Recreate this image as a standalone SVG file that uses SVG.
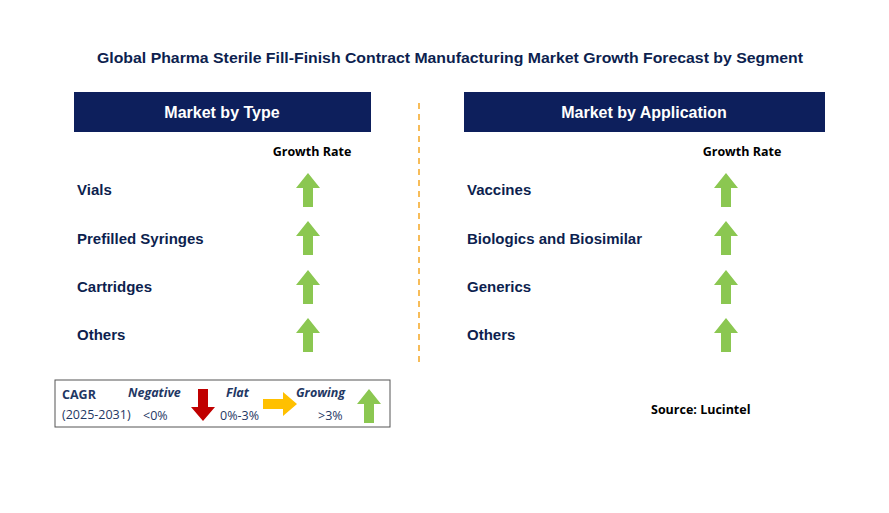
<svg xmlns="http://www.w3.org/2000/svg" width="889" height="513" viewBox="0 0 889 513">
<defs>
<style>
.t{font-family:"Liberation Sans",Arial,sans-serif;font-weight:bold;fill:#0d1f4f}
.h{font-family:"Liberation Sans",Arial,sans-serif;font-weight:bold;fill:#fff;font-size:16px}
.g{font-family:"Open Sans","Liberation Sans",sans-serif;font-weight:bold;font-size:12.5px;fill:#000}
.c{font-family:"Open Sans","Liberation Sans",sans-serif;font-size:12.5px;fill:#1f3864}
.up{fill:#8bc751}
</style>
<path id="ua" d="M0,-17 L12,-2 L5,-2 L5,17 L-5,17 L-5,-2 L-12,-2 Z"/>
</defs>
<rect width="889" height="513" fill="#fff"/>
<text class="t" x="450" y="63" font-size="15" text-anchor="middle" textLength="706" lengthAdjust="spacingAndGlyphs">Global Pharma Sterile Fill-Finish Contract Manufacturing Market Growth Forecast by Segment</text>
<g id="hdr-type"><rect x="74" y="92" width="297" height="40" fill="#0d1f5c"/><text class="h" x="222" y="118" text-anchor="middle">Market by Type</text></g>
<g id="hdr-app"><rect x="464" y="92" width="361" height="40" fill="#0d1f5c"/><text class="h" x="644" y="118" text-anchor="middle">Market by Application</text></g>
<g id="connectors"><line x1="419" y1="103" x2="419" y2="366" stroke="#f5a623" stroke-width="1.5" stroke-dasharray="6,5"/></g>
<text class="g" x="312" y="156" text-anchor="middle">Growth Rate</text>
<text class="g" x="742" y="156" text-anchor="middle">Growth Rate</text>
<g id="type-items" class="t" font-size="15">
<text x="77" y="195">Vials</text><text x="77" y="244">Prefilled Syringes</text><text x="77" y="292">Cartridges</text><text x="77" y="340">Others</text>
</g>
<g id="app-items" class="t" font-size="15">
<text x="467" y="195">Vaccines</text><text x="467" y="244">Biologics and Biosimilar</text><text x="467" y="292">Generics</text><text x="467" y="340">Others</text>
</g>
<g id="arrows" class="up">
<use href="#ua" x="308" y="190"/><use href="#ua" x="308" y="238"/><use href="#ua" x="308" y="287"/><use href="#ua" x="308" y="335"/>
<use href="#ua" x="726" y="190"/><use href="#ua" x="726" y="238"/><use href="#ua" x="726" y="287"/><use href="#ua" x="726" y="335"/>
</g>
<g id="legend">
<rect x="55" y="380" width="335" height="47" fill="#fff" stroke="#555" stroke-width="1"/>
<text class="c" x="62" y="399" font-weight="bold">CAGR</text>
<text class="c" x="62" y="419">(2025-2031)</text>
<text class="c" x="128" y="397" font-weight="bold" font-style="italic" font-size="13">Negative</text>
<text class="c" x="143" y="420">&lt;0%</text>
<path d="M198,389 L208,389 L208,407 L215,407 L203,421 L191,407 L198,407 Z" fill="#c00000"/>
<text class="c" x="226" y="397" font-weight="bold" font-style="italic" font-size="13">Flat</text>
<text class="c" x="220" y="420">0%-3%</text>
<path d="M263,399 L283,399 L283,392 L297,404 L283,416 L283,409 L263,409 Z" fill="#ffc000"/>
<text class="c" x="296" y="397" font-weight="bold" font-style="italic" font-size="13">Growing</text>
<text class="c" x="318" y="420">&gt;3%</text>
<use href="#ua" class="up" x="369" y="406"/>
</g>
<text class="g" x="651" y="414" font-size="12">Source: Lucintel</text>
</svg>
